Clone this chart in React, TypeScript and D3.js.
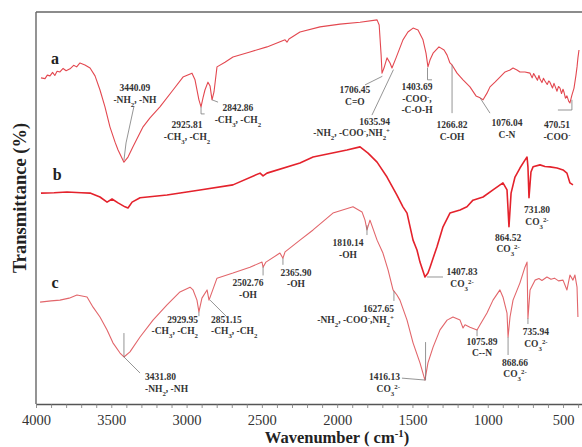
import React, { useEffect, useRef } from 'react';
import * as d3 from 'd3';

// spectra: [wavenumber cm-1, transmittance (arb. %)]
const spectrumA: [number, number][] = [
  [3967, 83.2], [3940, 83.0], [3925, 83.9], [3907, 83.7], [3890, 84.6], [3875, 83.8], [3860, 84.9],
  [3841, 84.7], [3820, 85.6], [3800, 85.0], [3774, 85.5], [3750, 86.4], [3730, 86.0], [3708, 87.0],
  [3675, 86.5], [3641, 85.7], [3608, 83.7], [3575, 80.1], [3542, 75.8], [3509, 70.7], [3475, 66.8],
  [3455, 64.8], [3416, 61.7], [3389, 63.0], [3356, 65.6], [3289, 70.7], [3243, 73.0], [3177, 75.8],
  [3090, 80.1], [3024, 83.4], [2964, 84.4], [2944, 82.7], [2918, 77.6], [2904, 75.8], [2891, 78.1],
  [2878, 80.1], [2858, 82.1], [2844, 81.1], [2831, 77.6], [2818, 79.6], [2798, 86.0], [2745, 87.2],
  [2692, 88.5], [2579, 89.8], [2466, 91.1], [2346, 92.9], [2333, 92.3], [2320, 93.1], [2247, 94.9],
  [2114, 96.2], [1981, 96.9], [1848, 97.4], [1735, 98.0], [1721, 96.7], [1708, 89.0], [1702, 84.4],
  [1689, 85.7], [1669, 88.3], [1649, 87.0], [1636, 85.7], [1609, 88.3], [1563, 92.9], [1530, 94.9],
  [1496, 95.9], [1463, 95.4], [1430, 92.9], [1410, 89.5], [1397, 86.0], [1383, 87.8], [1363, 89.5],
  [1324, 91.1], [1290, 90.3], [1270, 89.0], [1251, 87.0], [1237, 86.5], [1204, 84.4], [1164, 82.7],
  [1118, 80.9], [1078, 78.6], [1051, 78.1], [1031, 77.6], [1005, 79.3], [985, 80.9], [952, 82.1],
  [919, 83.4], [885, 84.7], [852, 85.2], [832, 85.7], [806, 85.2], [786, 84.7], [753, 84.7],
  [719, 84.4], [705, 83.2], [695, 84.3], [686, 83.7], [670, 82.6], [660, 83.8], [653, 82.9],
  [640, 82.0], [630, 83.1], [620, 82.4], [605, 81.5], [595, 82.4], [587, 82.1], [570, 80.6],
  [560, 81.8], [553, 81.1], [540, 79.8], [530, 81.0], [520, 80.6], [510, 79.2], [500, 80.3],
  [494, 79.6], [484, 78.0], [474, 78.6], [462, 77.2], [454, 76.8], [441, 78.8], [427, 80.6],
  [414, 83.9], [407, 86.0], [401, 88.3], [394, 90.3],
];

const spectrumB: [number, number][] = [
  [3967, 53.8], [3880, 53.9], [3794, 54.1], [3700, 53.9], [3641, 53.8], [3575, 52.8], [3528, 51.5],
  [3495, 52.3], [3455, 51.3], [3409, 50.3], [3389, 50.0], [3362, 51.5], [3309, 52.6], [3130, 53.3],
  [2911, 54.6], [2692, 55.9], [2512, 58.9], [2492, 58.2], [2466, 58.9], [2247, 61.5], [2160, 63.0],
  [1935, 64.8], [1848, 65.6], [1795, 64.0], [1735, 61.7], [1669, 57.9], [1603, 53.3], [1563, 50.3],
  [1536, 48.7], [1496, 41.8], [1470, 39.3], [1450, 36.2], [1417, 32.4], [1397, 33.4], [1383, 34.9],
  [1363, 37.2], [1337, 40.1], [1297, 45.2], [1251, 48.7], [1184, 49.5], [1138, 50.3], [1098, 52.0],
  [1031, 52.8], [965, 54.6], [899, 56.4], [872, 54.6], [859, 45.2], [845, 53.8], [819, 57.9],
  [786, 60.2], [753, 62.2], [739, 63.0], [733, 60.5], [726, 52.6], [713, 59.2], [699, 60.5],
  [653, 61.0], [620, 60.6], [587, 60.5], [540, 60.2], [500, 59.7], [474, 58.9], [454, 56.4],
  [434, 55.9],
];

const spectrumC: [number, number][] = [
  [3973, 26.0], [3900, 26.3], [3841, 26.5], [3780, 27.0], [3728, 27.8], [3661, 27.3], [3621, 24.7],
  [3575, 22.2], [3528, 18.9], [3489, 15.6], [3442, 13.0], [3416, 12.0], [3376, 13.3], [3309, 17.1],
  [3223, 21.4], [3130, 25.3], [3044, 28.6], [2977, 29.8], [2957, 29.1], [2931, 26.5], [2918, 23.5],
  [2898, 27.0], [2864, 29.1], [2851, 26.5], [2831, 28.6], [2798, 32.1], [2692, 33.4], [2579, 34.9],
  [2499, 36.2], [2492, 34.9], [2473, 36.2], [2380, 38.5], [2360, 37.2], [2346, 38.8], [2247, 41.8],
  [2160, 44.4], [2028, 48.7], [1895, 50.3], [1835, 49.0], [1815, 46.9], [1802, 44.4], [1782, 46.9],
  [1735, 41.8], [1696, 38.5], [1662, 34.2], [1629, 29.1], [1603, 27.8], [1583, 26.5], [1536, 21.4],
  [1496, 15.6], [1450, 10.5], [1417, 6.1], [1397, 10.5], [1363, 14.5], [1317, 18.9], [1270, 21.4],
  [1231, 22.2], [1184, 21.4], [1164, 19.4], [1151, 20.2], [1118, 19.6], [1071, 18.9], [1051, 20.2],
  [1005, 23.2], [965, 26.5], [919, 29.1], [899, 27.3], [872, 23.2], [865, 17.1], [852, 22.2],
  [832, 26.5], [786, 30.9], [753, 34.9], [739, 36.2], [733, 21.9], [719, 29.1], [686, 31.6],
  [660, 32.0], [640, 31.5], [607, 32.4], [580, 31.8], [557, 32.1], [530, 31.4], [500, 31.6],
  [474, 29.1], [454, 32.9], [434, 31.6], [421, 32.9], [407, 29.8], [401, 22.2],
];

const majorTicks = [4000, 3500, 3000, 2500, 2000, 1500, 1000, 500];
const minorTicks = d3.range(4000, 399, -100);

// peak labels: text lines, text anchor point [wn, T], leader polyline
const peakLabels = [
  { lines: ['3440.09', '-NH_{2}, -NH'], at: [3343, 79.8], anchor: 'middle', leader: [[3349, 76.0], [3402, 66.6], [3416, 62.2]] },
  { lines: ['2925.81', '-CH_{3}, -CH_{2}'], at: [2997, 70.4], anchor: 'middle', leader: [[2904, 75.8], [2904, 74.0], [2880, 74.0]] },
  { lines: ['2842.86', '-CH_{3}, -CH_{2}'], at: [2659, 74.7], anchor: 'middle', leader: [[2831, 77.6], [2791, 77.0]] },
  { lines: ['1706.45', 'C=O'], at: [1882, 79.3], anchor: 'middle', leader: [[1815, 81.4], [1700, 83.6]] },
  { lines: ['1635.94', '-NH_{2}, -COO^{-},NH_{2}^{+}'], at: [1649, 71.2], anchor: 'end', leader: [[1769, 73.7], [1626, 85.3]] },
  { lines: ['1403.69', '-COO^{-},', '-C-O-H'], at: [1470, 80.1], anchor: 'middle', leader: [[1400, 85.8], [1400, 82.7], [1370, 82.7]] },
  { lines: ['1266.82', 'C-OH'], at: [1237, 70.4], anchor: 'middle', leader: [[1237, 86.5], [1237, 74.2]] },
  { lines: ['1076.04', 'C-N'], at: [872, 70.9], anchor: 'middle', leader: [[1051, 78.1], [985, 74.2]] },
  { lines: ['470.51', '-COO^{-}'], at: [540, 70.4], anchor: 'middle', leader: [[441, 77.6], [441, 75.0], [534, 75.0]] },
  { lines: ['1407.83', 'CO_{3}^{2-}'], at: [1171, 32.9], anchor: 'middle', leader: [[1403, 32.4], [1297, 32.4]] },
  { lines: ['864.52', 'CO_{3}^{2-}'], at: [865, 41.6], anchor: 'middle', leader: [] },
  { lines: ['731.80', 'CO_{3}^{2-}'], at: [673, 48.7], anchor: 'middle', leader: [] },
  { lines: ['2502.76', '-OH'], at: [2592, 30.1], anchor: 'middle', leader: [[2492, 35.0], [2492, 32.8]] },
  { lines: ['2365.90', '-OH'], at: [2273, 32.7], anchor: 'middle', leader: [[2360, 37.2], [2360, 35.5]] },
  { lines: ['1810.14', '-OH'], at: [1928, 40.3], anchor: 'middle', leader: [[1802, 45.6], [1802, 43.1]] },
  { lines: ['1627.65', '-NH_{2}, -COO^{-},NH_{2}^{+}'], at: [1623, 23.5], anchor: 'end', leader: [[1623, 28.8], [1623, 26.3]] },
  { lines: ['3431.80', '-NH_{2}, -NH'], at: [3276, 6.1], anchor: 'start', leader: [[3416, 18.1], [3416, 12.0], [3309, 7.9]] },
  { lines: ['2929.95', '-CH_{3}, -CH_{2}'], at: [2924, 20.7], anchor: 'end', leader: [[2918, 23.5], [2918, 22.4]] },
  { lines: ['2851.15', '-CH_{3}, -CH_{2}'], at: [2838, 20.7], anchor: 'start', leader: [[2844, 26.5], [2732, 22.2]] },
  { lines: ['1416.13', 'CO_{3}^{2-}'], at: [1583, 6.1], anchor: 'end', leader: [[1570, 6.6], [1413, 6.1], [1413, 15.8]] },
  { lines: ['1075.89', 'C--N'], at: [1038, 15.1], anchor: 'middle', leader: [[1071, 18.9], [1071, 17.3]] },
  { lines: ['868.66', 'CO_{3}^{2-}'], at: [819, 9.7], anchor: 'middle', leader: [[865, 17.1], [865, 12.5]] },
  { lines: ['735.94', 'CO_{3}^{2-}'], at: [680, 17.6], anchor: 'middle', leader: [[733, 21.9], [733, 20.4]] },
];

const curveNames = [
  { name: 'a', at: [3874, 86.7] },
  { name: 'b', at: [3860, 57.1] },
  { name: 'c', at: [3874, 29.6] },
];

const serif = '"Liberation Serif", "Times New Roman", serif';

function rich(s: string) {
  return s.split(/(_\{[^}]*\}|\^\{[^}]*\})/).filter(Boolean).map((p, i) => {
    if (p.startsWith('_{')) return <tspan key={i} baselineShift="sub" fontSize="72%">{p.slice(2, -1)}</tspan>;
    if (p.startsWith('^{')) return <tspan key={i} baselineShift="super" fontSize="72%">{p.slice(2, -1)}</tspan>;
    return <tspan key={i}>{p}</tspan>;
  });
}

const App: React.FC = () => {
  const axisRef = useRef<SVGGElement>(null);
  const width = 582;
  const height = 447;
  const left = 36, top = 12, bottom = 404;

  const x = d3.scaleLinear().domain([4000, 374]).range([left, width]);
  const y = d3.scaleLinear().domain([0, 100]).range([bottom, top]);

  const line = d3.line<[number, number]>()
    .x(d => x(d[0]))
    .y(d => y(d[1]));

  useEffect(() => {
    if (!axisRef.current) return;
    const g = d3.select(axisRef.current);
    g.selectAll('*').remove();
    const axis = d3.axisBottom(x)
      .tickValues(minorTicks)
      .tickSize(4)
      .tickSizeOuter(0)
      .tickPadding(7)
      .tickFormat((d: any) => (majorTicks.includes(d) ? String(d) : ''));
    g.call(axis as any);
    g.select('.domain').attr('stroke', '#555').attr('stroke-width', 1.4);
    g.selectAll('.tick line').attr('stroke', '#777').attr('stroke-width', 0.8);
    g.selectAll('.tick text')
      .attr('font-family', serif)
      .attr('font-size', 14.5)
      .attr('fill', '#333');
  }, []);

  const leader = d3.line<number[]>().x(d => x(d[0])).y(d => y(d[1]));

  return (
    <svg width={width} height={height} style={{ position: 'absolute', left: 0, top: 0, background: '#fff' }}>
      <line x1={left} x2={width} y1={top} y2={top} stroke="#666" strokeWidth={1.4} />
      <line x1={left} x2={left} y1={top} y2={bottom} stroke="#666" strokeWidth={1.4} />
      <g ref={axisRef} transform={`translate(0,${bottom})`} />

      <path d={line(spectrumA) || ''} fill="none" stroke="#e34850" strokeWidth={1.1} strokeLinejoin="round" />
      <path d={line(spectrumB) || ''} fill="none" stroke="#e4222c" strokeWidth={1.6} strokeLinejoin="round" />
      <path d={line(spectrumC) || ''} fill="none" stroke="#e2666b" strokeWidth={1.1} strokeLinejoin="round" />

      {peakLabels.map((p, i) => (
        <g key={i}>
          {p.leader.length > 1 && (
            <path d={leader(p.leader) || ''} fill="none" stroke="#7a7a7a" strokeWidth={0.8} />
          )}
          <text x={x(p.at[0])} y={y(p.at[1])} textAnchor={p.anchor as any}
            fontFamily={serif} fontWeight="bold" fontSize={9.5} fill="#333">
            {p.lines.map((l, j) => (
              <tspan key={j} x={x(p.at[0])} dy={j === 0 ? 0 : 11.5}>{rich(l)}</tspan>
            ))}
          </text>
        </g>
      ))}

      {curveNames.map(c => (
        <text key={c.name} x={x(c.at[0])} y={y(c.at[1])} textAnchor="middle"
          fontFamily={serif} fontWeight="bold" fontSize={16} fill="#222">{c.name}</text>
      ))}

      <text transform="translate(26,198) rotate(-90)" textAnchor="middle"
        fontFamily={serif} fontWeight="bold" fontSize={18.5} fill="#222">Transmittance (%)</text>
      <text x={337} y={443} textAnchor="middle" fontFamily={serif} fontWeight="bold" fontSize={16.5} fill="#222">
        Wavenumber ( cm<tspan baselineShift="super" fontSize="65%">-1</tspan>)
      </text>
    </svg>
  );
};

export default App;
